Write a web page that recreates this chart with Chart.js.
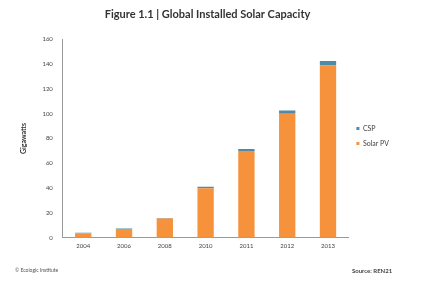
<!DOCTYPE html>
<html><head><meta charset="utf-8">
<script src="https://cdn.jsdelivr.net/npm/chart.js@4/dist/chart.umd.min.js"></script>
<style>html,body{margin:0;padding:0;background:#fff;}#wrap{position:relative;width:427px;height:281px;}</style>
</head><body><div id="wrap"><canvas id="c" width="427" height="281"></canvas></div>
<script>
const years = ['2004','2006','2008','2010','2011','2012','2013'];
const solarPV = [3.7, 7, 15.5, 40, 70, 100, 139];
const csp = [0.4, 0.5, 0.5, 1.1, 1.6, 2.5, 3.4];
const yTicks = [0,20,40,60,80,100,120,140,160];

const footer = {
  id:'footer',
  afterDraw(chart){
    const ctx = chart.ctx;
    ctx.save();
    ctx.fillStyle = '#555';
    ctx.font = '5px Lato, sans-serif';
    ctx.textBaseline = 'middle';
    ctx.textAlign = 'left';
    ctx.fillText('\u00A9 Ecologic Institute', 15, 270);
    ctx.fillStyle = '#444';
    ctx.font = 'bold 6px Lato, sans-serif';
    ctx.textAlign = 'left';
    ctx.fillText('Source: REN21', 352, 271);
    ctx.restore();
  }
};

new Chart(document.getElementById('c'), {
  type:'bar',
  data:{
    labels: years,
    datasets:[
      {label:'Solar PV', data: solarPV, backgroundColor:'#F6923B', barPercentage:0.4, categoryPercentage:1},
      {label:'CSP', data: csp, backgroundColor:'#4E8BA8', barPercentage:0.4, categoryPercentage:1}
    ]
  },
  options:{
    responsive:false, animation:false,
    layout:{padding:{left:16, right:28, top:4, bottom:26}},
    plugins:{
      title:{display:true, text:'Figure 1.1 | Global Installed Solar Capacity', color:'#333',
        font:{family:'Lato', size:11, weight:'bold'}, padding:{top:4, bottom:18}},
      legend:{position:'right', reverse:true,
        title:{display:true, text:' ', font:{size:6}, padding:3},
        labels:{boxWidth:3, boxHeight:3, color:'#444', font:{family:'Lato', size:7}, padding:8}},
      tooltip:{enabled:false}
    },
    scales:{
      x:{stacked:true, grid:{display:false, drawTicks:false}, border:{color:'#999'},
        ticks:{color:'#444', font:{family:'Lato', size:6}, padding:5}},
      y:{stacked:true, min:0, max:160, grid:{display:false, drawTicks:false}, border:{color:'#999'},
        afterBuildTicks(ax){ ax.ticks = yTicks.map(v=>({value:v})); },
        ticks:{color:'#444', font:{family:'Lato', size:6}, padding:10},
        title:{display:true, text:'Gigawatts', color:'#333', font:{family:'Lato', size:7, weight:'bold'}, padding:{bottom:4}}}
    }
  },
  plugins:[footer]
});
</script></body></html>
